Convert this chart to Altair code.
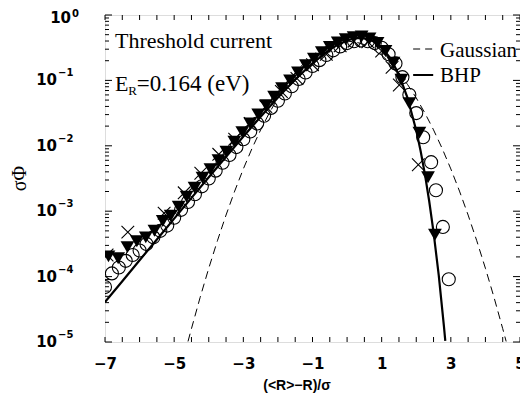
import altair as alt
import pandas as pd

# ---------------- data ----------------
gauss_x = [-4.6, -4.5, -4.25, -4.0, -3.75, -3.5, -3.25, -3.0, -2.75, -2.5, -2.25, -2.0, -1.75,
           -1.5, -1.25, -1.0, -0.75, -0.5, -0.25, 0.0, 0.25, 0.5, 0.75, 1.0, 1.25, 1.5, 1.75,
           2.0, 2.25, 2.5, 2.75, 3.0, 3.25, 3.5, 3.75, 4.0, 4.25, 4.5, 4.6]
gauss_y = [1.02e-5, 1.60e-5, 4.79e-5, 1.34e-4, 3.53e-4, 8.73e-4, 2.03e-3, 4.43e-3, 9.09e-3,
           1.75e-2, 3.17e-2, 5.40e-2, 8.63e-2, 0.130, 0.183, 0.242, 0.301, 0.352, 0.386, 0.399,
           0.386, 0.352, 0.301, 0.242, 0.183, 0.130, 8.63e-2, 5.40e-2, 3.17e-2, 1.75e-2, 9.09e-3,
           4.43e-3, 2.03e-3, 8.73e-4, 3.53e-4, 1.34e-4, 4.79e-5, 1.60e-5, 1.02e-5]

bhp_x = [-7.0, -6.5, -6.0, -5.5, -5.0, -4.5, -4.0, -3.5, -3.0, -2.5, -2.0, -1.5, -1.0, -0.5,
         -0.25, 0.0, 0.25, 0.374, 0.5, 0.75, 1.0, 1.25, 1.5, 1.75, 2.0, 2.125, 2.25, 2.375,
         2.5, 2.65, 2.8, 2.84]
bhp_y = [4.1e-5, 8.5e-5, 1.78e-4, 3.7e-4, 7.7e-4, 1.60e-3, 3.31e-3, 6.81e-3, 1.387e-2, 2.79e-2,
         5.46e-2, 0.1033, 0.183, 0.295, 0.356, 0.408, 0.441, 0.445, 0.440, 0.398, 0.318, 0.219,
         0.1227, 5.37e-2, 1.72e-2, 8.4e-3, 3.69e-3, 1.42e-3, 4.79e-4, 1.05e-4, 1.75e-5, 1.04e-5]

tri_x = [-6.9, -6.62, -6.35, -6.08, -5.82, -5.57, -5.33, -5.1, -4.87, -4.64, -4.41, -4.18,
         -3.95, -3.72, -3.49, -3.26, -3.03, -2.8, -2.57, -2.34, -2.11, -1.88, -1.65, -1.42,
         -1.19, -0.96, -0.73, -0.5, -0.27, -0.04, 0.19, 0.42, 0.65, 0.88, 1.11, 1.34, 1.57,
         1.8, 2.09, 2.34, 2.54]
tri_y = [2.04e-4, 1.91e-4, 2.82e-4, 3.47e-4, 3.98e-4, 5.01e-4, 7.08e-4, 8.51e-4, 1.17e-3,
         1.66e-3, 2.29e-3, 3.24e-3, 4.37e-3, 6.03e-3, 8.13e-3, 1.15e-2, 1.62e-2, 2.19e-2,
         3.02e-2, 4.17e-2, 5.62e-2, 7.59e-2, 0.100, 0.132, 0.170, 0.214, 0.269, 0.324, 0.380,
         0.427, 0.457, 0.468, 0.437, 0.372, 0.282, 0.186, 0.102, 4.47e-2, 1.58e-2, 3.31e-3,
         4.37e-4]

circ_x = [-7.0, -6.8, -6.6, -6.4, -6.2, -6.0, -5.8, -5.6, -5.4, -5.2, -5.0, -4.8, -4.6, -4.4,
          -4.2, -4.0, -3.8, -3.6, -3.4, -3.2, -3.0, -2.8, -2.6, -2.4, -2.2, -2.0, -1.8, -1.6,
          -1.4, -1.2, -1.0, -0.8, -0.6, -0.4, -0.2, 0.0, 0.2, 0.4, 0.6, 0.8, 1.0, 1.2, 1.4,
          1.6, 1.8, 2.0, 2.2, 2.43, 2.57, 2.77, 2.94]
circ_y = [6.92e-5, 1.12e-4, 1.38e-4, 1.74e-4, 2.14e-4, 2.51e-4, 3.16e-4, 3.98e-4, 5.01e-4,
          6.03e-4, 7.94e-4, 1.05e-3, 1.38e-3, 1.82e-3, 2.40e-3, 3.16e-3, 4.17e-3, 5.50e-3,
          7.24e-3, 9.55e-3, 1.26e-2, 1.66e-2, 2.19e-2, 2.88e-2, 3.80e-2, 4.90e-2, 6.31e-2,
          8.13e-2, 0.105, 0.132, 0.166, 0.204, 0.245, 0.288, 0.331, 0.372, 0.398, 0.407, 0.398,
          0.372, 0.316, 0.251, 0.182, 0.112, 6.03e-2, 3.16e-2, 1.35e-2, 5.62e-3, 2.09e-3,
          5.75e-4, 9.12e-5]

cross_x = [-6.94, -6.34, -5.29, -4.71, -4.23, -3.71, -3.25, -2.8, -2.35, -1.9, -1.45, -1.0,
           -0.6, -0.2, 0.2, 0.6, 1.0, 1.3, 1.51, 2.06]
cross_y = [2.14e-4, 4.79e-4, 9.33e-4, 1.91e-3, 3.80e-3, 7.41e-3, 1.26e-2, 2.19e-2, 3.98e-2,
           6.76e-2, 0.107, 0.174, 0.251, 0.339, 0.398, 0.389, 0.282, 0.158, 8.51e-2, 5.13e-3]

x_tick_values = [-7.0, -6.5, -6.0, -5.5, -5.0, -4.5, -4.0, -3.5, -3.0, -2.5, -2.0, -1.5, -1.0,
                 -0.5, 0.0, 0.5, 1.0, 1.5, 2.0, 2.5, 3.0, 3.5, 4.0, 4.5, 5.0]
x_label_values = [-7, -5, -3, -1, 1, 3, 5]
y_major = [1e-5, 1e-4, 1e-3, 1e-2, 1e-1]
y_major_exp = ["\u22125", "\u22124", "\u22123", "\u22122", "\u22121"]
y_top = [1.0]
y_top_exp = ["0"]
y_minor = [m * 10.0 ** e for e in range(-5, 0) for m in range(2, 10)]

legend_names = ["Gaussian", "BHP"]
legend_line_y = [0.302, 0.121]
legend_text_y = [0.228, 0.0946]

# ---------------- scales ----------------
W, H = 415, 327
xs = alt.Scale(domain=[-7, 5], nice=False, zero=False)
ys = alt.Scale(type="log", domain=[1e-5, 1], nice=False)

x_axis = alt.Axis(values=x_label_values, ticks=False, domain=False, grid=False,
                  labelFont="DejaVu Sans", labelFontWeight="bold", labelFontSize=15,
                  labelColor="black", labelPadding=14, labelFlush=False, labelOverlap=False,
                  title=None)

def XX(field="x"):
    return alt.X(f"{field}:Q", scale=xs, axis=x_axis, title=None)

def YY(field="y"):
    return alt.Y(f"{field}:Q", scale=ys, axis=None, title=None)

gdf = pd.DataFrame({"x": gauss_x, "y": gauss_y})
bdf = pd.DataFrame({"x": bhp_x, "y": bhp_y})
tdf = pd.DataFrame({"x": tri_x, "y": tri_y})
cdf = pd.DataFrame({"x": circ_x, "y": circ_y})
xdf = pd.DataFrame({"x": cross_x, "y": cross_y})

gauss = alt.Chart(gdf).mark_line(color="black", strokeWidth=1, strokeDash=[8, 5], clip=True).encode(
    x=XX(), y=YY())
bhp = alt.Chart(bdf).mark_line(color="black", strokeWidth=2.2, clip=True).encode(x=XX(), y=YY())
circles = alt.Chart(cdf).mark_point(shape="circle", filled=False, size=170, strokeWidth=1.1,
                                    color="black", opacity=1, clip=True).encode(x=XX(), y=YY())
crosses = alt.Chart(xdf).mark_point(shape="M-1,-1L1,1M-1,1L1,-1", filled=False, size=160,
                                    strokeWidth=1.1, color="black", opacity=1, clip=True).encode(
    x=XX(), y=YY())
tris = alt.Chart(tdf).mark_point(shape="triangle-down", filled=True, size=190, color="black",
                                 opacity=1, clip=True).encode(x=XX(), y=YY())

# legend
ldf = pd.DataFrame({"name": legend_names, "ly": legend_line_y, "ty": legend_text_y,
                    "x1": [1.91, 1.91], "x2": [2.49, 2.49], "tx": [2.69, 2.69]})
leg_dash = alt.Chart(ldf.iloc[[0]]).mark_rule(color="black", strokeWidth=1, strokeDash=[7, 5]).encode(
    x=XX("x1"), x2="x2:Q", y=YY("ly"))
leg_solid = alt.Chart(ldf.iloc[[1]]).mark_rule(color="black", strokeWidth=2).encode(
    x=XX("x1"), x2="x2:Q", y=YY("ly"))
leg_text = alt.Chart(ldf).mark_text(align="left", baseline="alphabetic", font="Liberation Serif",
                                    fontSize=21, color="black").encode(
    x=XX("tx"), y=YY("ty"), text="name:N")

# annotations
ann_main = alt.Chart(pd.DataFrame({"x": [-6.71, -6.71], "y": [0.313, 0.0688],
                                   "t": ["Threshold current", "E"]})).mark_text(
    align="left", baseline="alphabetic", font="Liberation Serif", fontSize=22, color="black").encode(
    x=XX(), y=YY(), text="t:N")
ann_sub = alt.Chart(pd.DataFrame({"x": [-6.33], "y": [0.0598], "t": ["R"]})).mark_text(
    align="left", baseline="alphabetic", font="Liberation Serif", fontSize=13, color="black").encode(
    x=XX(), y=YY(), text="t:N")
ann_rest = alt.Chart(pd.DataFrame({"x": [-6.08], "y": [0.0688], "t": ["=0.164 (eV)"]})).mark_text(
    align="left", baseline="alphabetic", font="Liberation Serif", fontSize=23, color="black").encode(
    x=XX(), y=YY(), text="t:N")

# y tick labels (10 with superscript exponent)
ylab = pd.DataFrame({"y": y_major, "e": y_major_exp, "b": ["10"] * len(y_major)})
ytop = pd.DataFrame({"y": y_top, "e": y_top_exp, "b": ["10"]})
lab_font = dict(font="DejaVu Sans", fontWeight="bold", color="black")
ylab_base = alt.Chart(ylab).mark_text(align="right", baseline="middle", fontSize=15, **lab_font).encode(
    x=alt.value(-48), y=YY(), text="b:N")
ylab_exp = alt.Chart(ylab).mark_text(align="left", baseline="middle", fontSize=10, dy=-7, **lab_font).encode(
    x=alt.value(-47), y=YY(), text="e:N")
ytop_base = alt.Chart(ytop).mark_text(align="right", baseline="middle", fontSize=15, dy=3, **lab_font).encode(
    x=alt.value(-34), y=YY(), text="b:N")
ytop_exp = alt.Chart(ytop).mark_text(align="left", baseline="middle", fontSize=10, dy=-1, **lab_font).encode(
    x=alt.value(-33), y=YY(), text="e:N")

# inside ticks
xt = pd.DataFrame({"x": x_tick_values})
ymaj = pd.DataFrame({"y": y_major + y_top})
ymin = pd.DataFrame({"y": y_minor})
tick = dict(color="black", strokeWidth=1)
t_bottom = alt.Chart(xt).mark_rule(**tick).encode(x=XX(), y=alt.value(H), y2=alt.value(H - 5))
t_top = alt.Chart(xt).mark_rule(**tick).encode(x=XX(), y=alt.value(0), y2=alt.value(5))
t_lmaj = alt.Chart(ymaj).mark_rule(**tick).encode(y=YY(), x=alt.value(0), x2=alt.value(7))
t_lmin = alt.Chart(ymin).mark_rule(**tick).encode(y=YY(), x=alt.value(0), x2=alt.value(4))
t_rmaj = alt.Chart(ymaj).mark_rule(**tick).encode(y=YY(), x=alt.value(W), x2=alt.value(W - 7))
t_rmin = alt.Chart(ymin).mark_rule(**tick).encode(y=YY(), x=alt.value(W), x2=alt.value(W - 4))

# axis titles
ytitle = alt.Chart(pd.DataFrame({"t": ["\u03c3\u03a6"]})).mark_text(
    angle=270, align="center", baseline="middle",
    font="Liberation Serif", fontSize=20, color="black").encode(
    x=alt.value(-85), y=alt.value(H / 2), text="t:N")
xtitle = alt.Chart(pd.DataFrame({"t": ["(<R>\u2212R)/\u03c3"]})).mark_text(
    align="center", baseline="alphabetic", font="Liberation Sans", fontWeight="bold",
    fontSize=14, color="black").encode(x=alt.value(192), y=alt.value(375), text="t:N")

chart = alt.layer(
    gauss, bhp, circles, crosses, tris,
    leg_dash, leg_solid, leg_text,
    ann_main, ann_sub, ann_rest,
    ylab_base, ylab_exp, ytop_base, ytop_exp,
    t_bottom, t_top, t_lmaj, t_lmin, t_rmaj, t_rmin,
    ytitle, xtitle,
).properties(
    width=W, height=H,
    autosize=alt.AutoSizeParams(type="none"),
    padding={"left": 97, "top": 7, "right": 0, "bottom": 52},
).configure_view(stroke="black", strokeWidth=1.3).configure(background="white")

chart.save("out.html", embed_options={"renderer": "svg", "actions": False})
